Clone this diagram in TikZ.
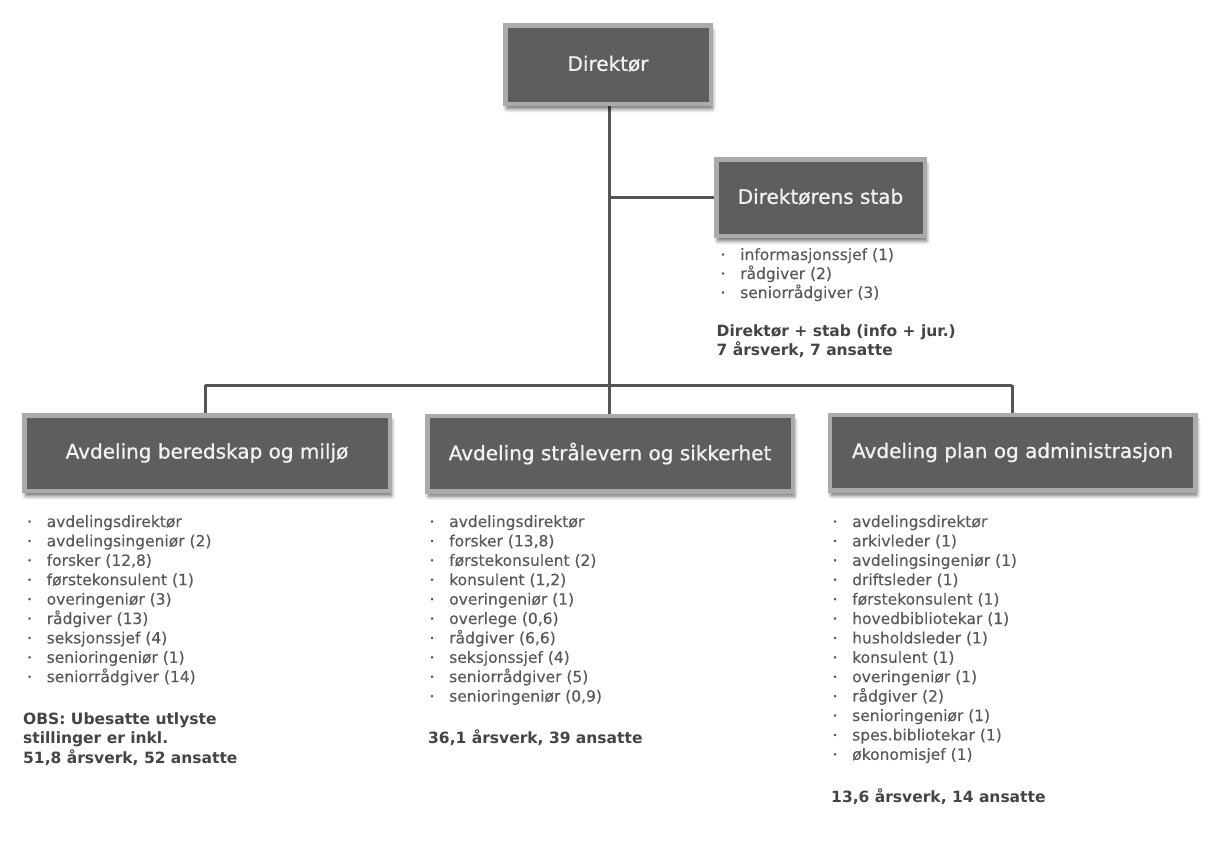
\documentclass[tikz,border=0pt]{standalone}
\usepackage{fontspec}
\setmainfont{DejaVu Sans}
\usetikzlibrary{shadows.blur}
\definecolor{boxfill}{HTML}{5E5E5E}
\definecolor{boxedge}{HTML}{ABABAB}
\definecolor{boxtext}{HTML}{F2F2F2}
\definecolor{conncol}{HTML}{555555}
\definecolor{itemcol}{HTML}{595959}
\definecolor{sumcol}{HTML}{444444}
\newcommand{\bul}{\llap{\makebox[19.5pt][l]{{\fontsize{8}{8}\selectfont\raisebox{2.5pt}{•}}}}}
\tikzset{
  orgbox/.style={draw=boxedge, line width=4.5pt, fill=boxfill, text=boxtext,
    font=\fontsize{20}{24}\selectfont\addfontfeature{FakeBold=0.8}, inner sep=0pt,
    blur shadow={shadow xshift=1.5pt, shadow yshift=-5pt, shadow blur radius=4pt, shadow blur steps=6, shadow opacity=60}},
  deptbox/.style={orgbox, minimum width=365.5pt, minimum height=75.5pt},
  conn/.style={draw=conncol, line width=3pt},
  item/.style={anchor=base west, inner sep=0pt, text=itemcol, font=\fontsize{15.5}{19}\selectfont\addfontfeature{FakeBold=0.3}},
  summary/.style={anchor=base west, inner sep=0pt, text=sumcol, font=\fontsize{15.5}{19.5}\selectfont\bfseries}
}
\newcommand{\up}[1]{\raisebox{2.5pt}{#1}}
\begin{document}
\begin{tikzpicture}[x=1pt,y=-1pt]
\useasboundingbox (0,0) rectangle (1209,844);
% junction coordinates
\coordinate (jS) at (609,197.5);
\coordinate (jM) at (609,385);
\coordinate (jL) at (205,385);
\coordinate (jR) at (1012,385);
% connectors
\draw[conn] (609,100) -- (jM);
\draw[conn] (jS) -- (716,197.5);
\draw[conn] (jL) -- (jR);
\draw[conn] (jL) -- (205,416);
\draw[conn] (jM) -- (609,416);
\draw[conn] (jR) -- (1012,416);
% boxes
\node[orgbox, minimum width=205.5pt, minimum height=78.5pt] (dir) at (608,64.5) {\up{Direktør}};
\node[orgbox, minimum width=208.5pt, minimum height=76.5pt] (stab) at (820.5,197.5) {\up{Direktørens stab}};
\node[deptbox] (bm) at (207,453) {\up{Avdeling beredskap og miljø}};
\node[deptbox] (ss) at (610,453.5) {\up{Avdeling strålevern og sikkerhet}};
\node[deptbox] (pa) at (1012.5,452.5) {\up{Avdeling plan og administrasjon}};
% stab list
\foreach \t [count=\i] in {informasjonssjef (1), rådgiver (2), seniorrådgiver (3)}
  \node[item] (s\i) at (740,{260+19*(\i-1)}) {\bul\t};
\node[summary] (ssum1) at (716.5,336) {Direktør + stab (info + jur.)};
\node[summary] (ssum2) at (716.5,355.5) {7 årsverk, 7 ansatte};
% left list
\foreach \t [count=\i] in {avdelingsdirektør, avdelingsingeniør (2), {forsker (12,8)}, førstekonsulent (1), overingeniør (3), rådgiver (13), seksjonssjef (4), senioringeniør (1), seniorrådgiver (14)}
  \node[item] (l\i) at (46.5,{527+19.4*(\i-1)}) {\bul\t};
\node[summary] (lsum1) at (23,724) {OBS: Ubesatte utlyste};
\node[summary] (lsum2) at (23,743.5) {stillinger er inkl.};
\node[summary] (lsum3) at (23,763) {51,8 årsverk, 52 ansatte};
% middle list
\foreach \t [count=\i] in {avdelingsdirektør, {forsker (13,8)}, førstekonsulent (2), {konsulent (1,2)}, overingeniør (1), {overlege (0,6)}, {rådgiver (6,6)}, seksjonssjef (4), seniorrådgiver (5), {senioringeniør (0,9)}}
  \node[item] (m\i) at (449,{527+19.4*(\i-1)}) {\bul\t};
\node[summary] (msum) at (428,743.5) {36,1 årsverk, 39 ansatte};
% right list
\foreach \t [count=\i] in {avdelingsdirektør, arkivleder (1), avdelingsingeniør (1), driftsleder (1), førstekonsulent (1), hovedbibliotekar (1), husholdsleder (1), konsulent (1), overingeniør (1), rådgiver (2), senioringeniør (1), spes.bibliotekar (1), økonomisjef (1)}
  \node[item] (r\i) at (852,{527+19.4*(\i-1)}) {\bul\t};
\node[summary] (rsum) at (831,802) {13,6 årsverk, 14 ansatte};
\end{tikzpicture}
\end{document}
